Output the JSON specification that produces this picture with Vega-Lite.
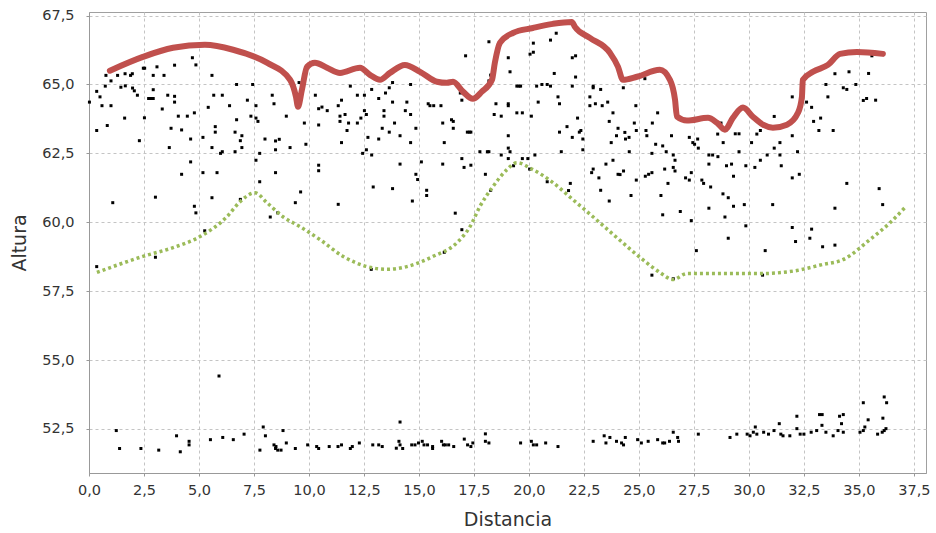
{
  "$schema": "https://vega.github.io/schema/vega-lite/v6.json",
  "width": 837,
  "height": 461,
  "autosize": {"type": "none"},
  "padding": {"left": 89, "top": 12, "right": 10, "bottom": 60},
  "background": "white",
  "config": {
    "view": {"stroke": "#a0a0a0", "strokeWidth": 1},
    "font": "DejaVu Sans",
    "axis": {
      "labelFont": "DejaVu Sans",
      "labelFontSize": 14.5,
      "labelColor": "#333333",
      "titleFont": "DejaVu Sans",
      "titleFontSize": 19,
      "titleFontWeight": "normal",
      "titleColor": "#333333",
      "domainColor": "#999999",
      "tickColor": "#999999",
      "tickSize": 3,
      "gridColor": "#c4c4c4",
      "gridDash": [3, 3],
      "gridWidth": 1
    }
  },
  "datasets": {
    "puntos": [
      {"distancia":0.02,"altura":64.36},{"distancia":0.35,"altura":64.75},{"distancia":0.35,"altura":63.33},{"distancia":0.5,"altura":64.55},{"distancia":0.59,"altura":64.23},{"distancia":0.74,"altura":64.94},{"distancia":0.77,"altura":65.33},{"distancia":0.83,"altura":63.51},{"distancia":1.0,"altura":65.13},{"distancia":1.0,"altura":64.23},{"distancia":1.08,"altura":60.71},{"distancia":1.3,"altura":65.33},{"distancia":1.48,"altura":65.7},{"distancia":1.45,"altura":64.9},{"distancia":1.64,"altura":65.39},{"distancia":1.62,"altura":63.78},{"distancia":1.65,"altura":64.95},{"distancia":1.89,"altura":65.33},{"distancia":1.97,"altura":65.39},{"distancia":1.98,"altura":64.87},{"distancia":2.06,"altura":64.77},{"distancia":2.2,"altura":64.61},{"distancia":2.29,"altura":62.96},{"distancia":2.47,"altura":65.59},{"distancia":2.53,"altura":65.59},{"distancia":2.52,"altura":63.79},{"distancia":2.71,"altura":64.49},{"distancia":2.8,"altura":64.49},{"distancia":2.92,"altura":64.49},{"distancia":2.92,"altura":64.81},{"distancia":2.92,"altura":65.33},{"distancia":3.02,"altura":60.91},{"distancia":3.09,"altura":65.64},{"distancia":3.02,"altura":58.73},{"distancia":3.33,"altura":64.11},{"distancia":3.41,"altura":65.33},{"distancia":3.58,"altura":64.61},{"distancia":3.65,"altura":62.71},{"distancia":3.73,"altura":63.41},{"distancia":3.89,"altura":65.7},{"distancia":3.89,"altura":64.57},{"distancia":3.89,"altura":64.36},{"distancia":4.06,"altura":63.85},{"distancia":4.21,"altura":63.35},{"distancia":4.21,"altura":61.74},{"distancia":4.47,"altura":63.85},{"distancia":4.62,"altura":63.02},{"distancia":4.62,"altura":62.19},{"distancia":4.7,"altura":65.97},{"distancia":4.79,"altura":63.97},{"distancia":4.86,"altura":65.71},{"distancia":4.79,"altura":60.58},{"distancia":4.86,"altura":60.34},{"distancia":5.18,"altura":63.08},{"distancia":5.18,"altura":61.8},{"distancia":5.26,"altura":59.69},{"distancia":5.42,"altura":64.17},{"distancia":5.59,"altura":65.33},{"distancia":5.67,"altura":64.61},{"distancia":5.59,"altura":62.71},{"distancia":5.74,"altura":63.47},{"distancia":5.74,"altura":63.27},{"distancia":5.82,"altura":61.8},{"distancia":5.59,"altura":60.89},{"distancia":5.98,"altura":62.5},{"distancia":6.06,"altura":62.56},{"distancia":6.06,"altura":64.61},{"distancia":6.39,"altura":64.23},{"distancia":6.64,"altura":63.27},{"distancia":6.71,"altura":65.0},{"distancia":6.71,"altura":63.72},{"distancia":6.64,"altura":62.56},{"distancia":6.88,"altura":62.96},{"distancia":6.95,"altura":63.14},{"distancia":6.95,"altura":62.71},{"distancia":6.88,"altura":60.83},{"distancia":7.2,"altura":64.43},{"distancia":7.36,"altura":63.85},{"distancia":7.44,"altura":65.0},{"distancia":7.59,"altura":64.23},{"distancia":7.59,"altura":63.78},{"distancia":7.68,"altura":63.66},{"distancia":7.59,"altura":62.25},{"distancia":7.76,"altura":62.5},{"distancia":7.76,"altura":61.47},{"distancia":8.0,"altura":63.02},{"distancia":8.24,"altura":60.19},{"distancia":8.33,"altura":64.61},{"distancia":8.41,"altura":64.3},{"distancia":8.48,"altura":62.95},{"distancia":8.65,"altura":63.01},{"distancia":8.48,"altura":62.63},{"distancia":8.48,"altura":61.8},{"distancia":8.58,"altura":60.34},{"distancia":8.97,"altura":63.85},{"distancia":9.14,"altura":62.71},{"distancia":9.38,"altura":60.71},{"distancia":9.62,"altura":61.1},{"distancia":9.55,"altura":65.07},{"distancia":9.79,"altura":63.6},{"distancia":9.86,"altura":62.83},{"distancia":10.29,"altura":64.61},{"distancia":10.44,"altura":64.12},{"distancia":10.44,"altura":63.53},{"distancia":10.44,"altura":61.87},{"distancia":10.44,"altura":62.07},
      {"distancia":10.59,"altura":64.18},{"distancia":10.83,"altura":64.05},{"distancia":11.33,"altura":64.23},{"distancia":11.48,"altura":64.43},{"distancia":11.41,"altura":63.85},{"distancia":11.41,"altura":63.66},{"distancia":11.64,"altura":63.91},{"distancia":11.8,"altura":63.6},{"distancia":11.73,"altura":63.33},{"distancia":11.48,"altura":62.89},{"distancia":11.33,"altura":60.65},{"distancia":11.88,"altura":64.94},{"distancia":12.2,"altura":64.61},{"distancia":12.2,"altura":63.6},{"distancia":12.36,"altura":63.78},{"distancia":12.52,"altura":64.61},{"distancia":12.52,"altura":64.05},{"distancia":12.61,"altura":63.91},{"distancia":12.44,"altura":62.5},{"distancia":12.61,"altura":62.63},{"distancia":12.85,"altura":62.44},{"distancia":12.92,"altura":61.28},{"distancia":12.68,"altura":63.08},{"distancia":12.85,"altura":64.82},{"distancia":13.17,"altura":64.49},{"distancia":13.17,"altura":63.02},{"distancia":13.33,"altura":63.41},{"distancia":13.41,"altura":64.05},{"distancia":13.41,"altura":63.85},{"distancia":13.48,"altura":64.69},{"distancia":13.65,"altura":64.88},{"distancia":13.8,"altura":65.07},{"distancia":13.65,"altura":63.27},{"distancia":13.8,"altura":64.36},{"distancia":13.89,"altura":63.6},{"distancia":14.14,"altura":63.14},{"distancia":14.14,"altura":62.11},{"distancia":13.8,"altura":61.22},{"distancia":14.38,"altura":64.05},{"distancia":14.45,"altura":64.36},{"distancia":14.62,"altura":63.91},{"distancia":14.62,"altura":65.0},{"distancia":14.86,"altura":63.41},{"distancia":14.62,"altura":62.89},{"distancia":14.7,"altura":60.77},{"distancia":14.86,"altura":61.74},{"distancia":14.94,"altura":61.55},{"distancia":15.11,"altura":62.19},{"distancia":15.35,"altura":61.16},{"distancia":15.35,"altura":60.97},{"distancia":15.42,"altura":64.3},{"distancia":15.5,"altura":64.23},{"distancia":15.67,"altura":64.23},{"distancia":16.0,"altura":64.23},{"distancia":16.08,"altura":63.6},{"distancia":16.15,"altura":62.89},{"distancia":16.08,"altura":62.11},{"distancia":16.48,"altura":63.72},{"distancia":16.56,"altura":63.66},{"distancia":16.56,"altura":63.41},{"distancia":16.65,"altura":60.33},{"distancia":16.95,"altura":59.73},{"distancia":16.15,"altura":58.91},{"distancia":16.88,"altura":64.69},{"distancia":16.95,"altura":64.43},{"distancia":17.12,"altura":66.04},{"distancia":17.2,"altura":63.27},{"distancia":17.29,"altura":63.27},{"distancia":17.36,"altura":63.27},{"distancia":16.95,"altura":62.31},{"distancia":17.05,"altura":61.99},{"distancia":17.36,"altura":62.07},{"distancia":17.77,"altura":62.56},{"distancia":18.11,"altura":62.56},{"distancia":18.18,"altura":62.56},{"distancia":18.02,"altura":61.74},{"distancia":18.26,"altura":61.16},{"distancia":18.18,"altura":66.55},{"distancia":18.18,"altura":65.13},{"distancia":18.26,"altura":65.34},{"distancia":18.5,"altura":64.3},{"distancia":18.42,"altura":63.91},{"distancia":18.74,"altura":63.85},{"distancia":18.74,"altura":62.44},{"distancia":19.06,"altura":65.97},{"distancia":19.06,"altura":64.3},{"distancia":19.06,"altura":64.23},{"distancia":19.06,"altura":63.14},{"distancia":19.06,"altura":62.69},{"distancia":19.14,"altura":65.46},{"distancia":19.14,"altura":62.56},{"distancia":19.06,"altura":62.31},{"distancia":19.45,"altura":64.94},{"distancia":19.55,"altura":64.94},{"distancia":19.62,"altura":64.94},{"distancia":19.45,"altura":63.97},{"distancia":19.7,"altura":63.97},{"distancia":19.3,"altura":62.05},{"distancia":19.7,"altura":62.31},{"distancia":19.95,"altura":62.31},{"distancia":20.03,"altura":61.93},{"distancia":20.05,"altura":66.1},{"distancia":20.2,"altura":66.17},{"distancia":20.2,"altura":66.5},{"distancia":20.35,"altura":64.94},{"distancia":20.42,"altura":64.36},{"distancia":20.11,"altura":63.85},{"distancia":20.27,"altura":62.44},{"distancia":20.59,"altura":65.0},{"distancia":20.83,"altura":65.0},{"distancia":20.98,"altura":66.61},{"distancia":21.24,"altura":66.86},{"distancia":21.15,"altura":65.4},{"distancia":20.98,"altura":64.94},{"distancia":21.32,"altura":64.55},{"distancia":21.39,"altura":64.3},{"distancia":21.39,"altura":63.27},{"distancia":21.47,"altura":62.56},{"distancia":21.73,"altura":63.47},{"distancia":21.97,"altura":64.94},{"distancia":21.97,"altura":63.08},{"distancia":21.97,"altura":65.97},{"distancia":22.12,"altura":66.04},{"distancia":22.12,"altura":65.27},{"distancia":22.21,"altura":63.78},{"distancia":22.29,"altura":63.27},{"distancia":22.36,"altura":63.33},{"distancia":22.45,"altura":63.02},{"distancia":22.45,"altura":62.63},{"distancia":21.8,"altura":61.15},{"distancia":21.88,"altura":61.41},{"distancia":20.83,"altura":61.47},{"distancia":22.77,"altura":64.55},{"distancia":22.92,"altura":64.94},{"distancia":22.92,"altura":64.88},{"distancia":22.77,"altura":64.23},{"distancia":23.02,"altura":64.3},{"distancia":23.26,"altura":64.82},{"distancia":23.33,"altura":64.23},{"distancia":23.58,"altura":64.36},{"distancia":23.82,"altura":63.97},{"distancia":23.65,"altura":63.66},{"distancia":24.05,"altura":63.41},{"distancia":23.98,"altura":63.14},{"distancia":23.74,"altura":62.89},{"distancia":23.5,"altura":62.11},{"distancia":23.82,"altura":62.25},{"distancia":22.92,"altura":61.93},{"distancia":22.85,"altura":61.8},{"distancia":23.18,"altura":61.61},{"distancia":23.26,"altura":61.16},{"distancia":23.65,"altura":60.77},{"distancia":24.05,"altura":61.74},
      {"distancia":24.29,"altura":64.88},{"distancia":25.27,"altura":65.21},{"distancia":24.86,"altura":64.23},{"distancia":24.79,"altura":63.6},{"distancia":24.88,"altura":63.33},{"distancia":24.36,"altura":63.26},{"distancia":24.39,"altura":63.02},{"distancia":24.55,"altura":63.08},{"distancia":24.56,"altura":62.56},{"distancia":24.14,"altura":61.73},{"distancia":24.3,"altura":61.86},{"distancia":24.88,"altura":61.53},{"distancia":24.64,"altura":60.97},{"distancia":25.32,"altura":63.33},{"distancia":25.36,"altura":63.14},{"distancia":25.61,"altura":63.6},{"distancia":25.85,"altura":63.97},{"distancia":26.48,"altura":63.14},{"distancia":25.76,"altura":62.83},{"distancia":25.59,"altura":62.5},{"distancia":26.08,"altura":62.77},{"distancia":26.24,"altura":62.56},{"distancia":26.56,"altura":62.44},{"distancia":26.64,"altura":62.25},{"distancia":26.17,"altura":61.93},{"distancia":26.56,"altura":61.99},{"distancia":26.64,"altura":61.86},{"distancia":25.29,"altura":61.67},{"distancia":25.44,"altura":61.74},{"distancia":25.59,"altura":61.8},{"distancia":26.32,"altura":61.41},{"distancia":26.0,"altura":60.97},{"distancia":26.08,"altura":60.27},{"distancia":26.88,"altura":60.39},{"distancia":27.38,"altura":60.06},{"distancia":27.61,"altura":58.97},{"distancia":27.12,"altura":61.61},{"distancia":27.29,"altura":61.53},{"distancia":27.38,"altura":61.8},{"distancia":27.29,"altura":63.08},{"distancia":27.45,"altura":62.89},{"distancia":27.53,"altura":62.83},{"distancia":27.67,"altura":63.02},{"distancia":27.7,"altura":62.69},{"distancia":27.86,"altura":61.53},{"distancia":27.94,"altura":61.41},{"distancia":28.26,"altura":61.28},{"distancia":28.18,"altura":62.44},{"distancia":28.35,"altura":62.44},{"distancia":28.59,"altura":62.38},{"distancia":28.18,"altura":62.11},{"distancia":28.18,"altura":60.51},{"distancia":28.82,"altura":61.03},{"distancia":29.06,"altura":60.89},{"distancia":28.91,"altura":60.19},{"distancia":29.3,"altura":60.58},{"distancia":29.06,"altura":59.42},{"distancia":29.79,"altura":60.64},{"distancia":29.86,"altura":59.87},{"distancia":28.58,"altura":63.2},{"distancia":28.83,"altura":62.89},{"distancia":28.98,"altura":62.05},{"distancia":29.21,"altura":62.11},{"distancia":29.3,"altura":61.67},{"distancia":29.38,"altura":63.21},{"distancia":29.55,"altura":63.21},{"distancia":29.55,"altura":62.56},{"distancia":29.86,"altura":62.05},{"distancia":30.12,"altura":62.89},{"distancia":30.27,"altura":61.99},{"distancia":30.36,"altura":63.2},{"distancia":30.52,"altura":63.33},{"distancia":30.52,"altura":62.25},{"distancia":30.83,"altura":62.44},{"distancia":31.08,"altura":60.64},{"distancia":30.74,"altura":58.97},{"distancia":31.15,"altura":63.84},{"distancia":31.15,"altura":62.69},{"distancia":31.41,"altura":62.89},{"distancia":31.41,"altura":62.44},{"distancia":31.47,"altura":62.05},{"distancia":31.97,"altura":64.55},{"distancia":31.97,"altura":63.14},{"distancia":31.97,"altura":61.61},{"distancia":32.21,"altura":62.56},{"distancia":32.29,"altura":61.74},{"distancia":31.97,"altura":59.81},{"distancia":32.12,"altura":59.3},{"distancia":32.62,"altura":64.36},{"distancia":32.85,"altura":64.17},{"distancia":32.94,"altura":63.66},{"distancia":33.26,"altura":63.78},{"distancia":33.18,"altura":63.33},{"distancia":33.35,"altura":59.11},{"distancia":32.77,"altura":59.42},{"distancia":32.85,"altura":59.75},{"distancia":33.5,"altura":65.0},{"distancia":33.59,"altura":64.55},{"distancia":33.83,"altura":63.33},{"distancia":33.91,"altura":65.39},{"distancia":33.91,"altura":60.51},{"distancia":33.91,"altura":59.17},{"distancia":34.29,"altura":64.88},{"distancia":34.45,"altura":64.82},{"distancia":34.55,"altura":65.46},{"distancia":34.86,"altura":65.0},{"distancia":34.45,"altura":61.41},{"distancia":35.2,"altura":64.42},{"distancia":35.35,"altura":64.49},{"distancia":35.44,"altura":65.4},{"distancia":35.59,"altura":66.04},{"distancia":35.76,"altura":64.43},{"distancia":35.92,"altura":61.22},{"distancia":36.08,"altura":60.64},{"distancia":28.73,"altura":63.6},
      {"distancia":0.35,"altura":58.39},{"distancia":1.24,"altura":52.44},{"distancia":1.39,"altura":51.79},{"distancia":2.36,"altura":51.79},{"distancia":3.17,"altura":51.73},{"distancia":3.98,"altura":52.25},{"distancia":4.15,"altura":51.67},{"distancia":4.55,"altura":52.05},{"distancia":4.55,"altura":51.92},{"distancia":5.52,"altura":52.11},{"distancia":5.91,"altura":54.42},{"distancia":6.08,"altura":52.19},{"distancia":6.56,"altura":52.11},{"distancia":7.05,"altura":52.31},{"distancia":7.77,"altura":51.73},{"distancia":7.92,"altura":52.57},{"distancia":8.02,"altura":52.25},{"distancia":8.41,"altura":51.92},{"distancia":8.48,"altura":51.79},{"distancia":8.58,"altura":51.73},{"distancia":8.73,"altura":51.73},{"distancia":8.5,"altura":51.86},{"distancia":8.82,"altura":52.44},{"distancia":8.97,"altura":51.99},{"distancia":9.38,"altura":51.79},{"distancia":9.94,"altura":51.92},{"distancia":10.35,"altura":51.86},
      {"distancia":10.44,"altura":51.79},{"distancia":10.92,"altura":51.86},{"distancia":11.32,"altura":51.86},{"distancia":11.48,"altura":51.92},{"distancia":11.88,"altura":51.79},{"distancia":11.97,"altura":51.86},{"distancia":12.29,"altura":51.99},{"distancia":12.9,"altura":51.92},{"distancia":13.17,"altura":51.92},{"distancia":13.33,"altura":51.86},{"distancia":13.97,"altura":51.8},{"distancia":14.09,"altura":52.05},{"distancia":14.14,"altura":51.92},{"distancia":14.26,"altura":51.79},{"distancia":14.14,"altura":52.75},{"distancia":14.67,"altura":51.92},{"distancia":14.82,"altura":51.92},{"distancia":14.98,"altura":51.99},{"distancia":15.15,"altura":52.05},{"distancia":15.23,"altura":51.92},{"distancia":15.39,"altura":51.92},{"distancia":15.62,"altura":51.86},{"distancia":15.62,"altura":51.79},{"distancia":16.03,"altura":52.05},{"distancia":16.11,"altura":51.92},{"distancia":16.2,"altura":51.92},{"distancia":16.35,"altura":51.92},{"distancia":16.58,"altura":51.86},{"distancia":17.06,"altura":52.13},{"distancia":17.21,"altura":51.92},{"distancia":17.36,"altura":51.86},{"distancia":17.45,"altura":51.99},{"distancia":18.02,"altura":52.32},{"distancia":18.02,"altura":52.05},{"distancia":18.18,"altura":51.99},{"distancia":19.62,"altura":51.99},{"distancia":20.11,"altura":52.05},{"distancia":20.2,"altura":51.92},{"distancia":20.35,"altura":51.92},{"distancia":20.76,"altura":51.99},{"distancia":21.32,"altura":51.86},{"distancia":22.92,"altura":52.05},{"distancia":23.42,"altura":52.25},{"distancia":23.5,"altura":51.99},{"distancia":23.68,"altura":52.19},{"distancia":23.98,"altura":52.05},{"distancia":12.83,"altura":58.29},
      {"distancia":24.21,"altura":51.99},{"distancia":24.3,"altura":51.92},{"distancia":24.38,"altura":52.19},{"distancia":24.94,"altura":52.11},{"distancia":25.11,"altura":51.99},{"distancia":25.42,"altura":52.05},{"distancia":25.85,"altura":52.11},{"distancia":26.08,"altura":51.99},{"distancia":26.17,"altura":51.99},{"distancia":26.39,"altura":52.05},{"distancia":26.56,"altura":52.38},{"distancia":26.8,"altura":52.05},{"distancia":26.76,"altura":52.19},{"distancia":27.7,"altura":52.31},{"distancia":29.14,"altura":52.19},{"distancia":29.45,"altura":52.31},{"distancia":29.92,"altura":52.31},{"distancia":30.05,"altura":52.25},{"distancia":30.2,"altura":52.38},{"distancia":30.29,"altura":52.57},{"distancia":30.36,"altura":52.31},{"distancia":30.67,"altura":52.38},{"distancia":30.89,"altura":52.31},{"distancia":31.14,"altura":52.44},{"distancia":31.38,"altura":52.69},{"distancia":31.45,"altura":52.31},{"distancia":31.55,"altura":52.25},{"distancia":31.86,"altura":52.25},{"distancia":32.18,"altura":52.96},{"distancia":32.18,"altura":52.51},{"distancia":32.33,"altura":52.31},{"distancia":32.5,"altura":52.31},{"distancia":32.83,"altura":52.38},{"distancia":33.08,"altura":52.44},{"distancia":33.21,"altura":53.02},{"distancia":33.33,"altura":53.02},{"distancia":33.32,"altura":52.63},{"distancia":33.5,"altura":52.38},{"distancia":33.83,"altura":52.25},{"distancia":34.05,"altura":52.44},{"distancia":34.12,"altura":52.96},{"distancia":34.29,"altura":53.02},{"distancia":34.21,"altura":52.69},{"distancia":34.29,"altura":52.38},{"distancia":35.05,"altura":52.38},{"distancia":35.2,"altura":53.45},{"distancia":35.27,"altura":52.57},{"distancia":35.2,"altura":52.44},{"distancia":35.42,"altura":52.83},{"distancia":35.85,"altura":52.31},{"distancia":36.06,"altura":52.38},{"distancia":36.15,"altura":53.66},{"distancia":36.26,"altura":53.45},{"distancia":36.09,"altura":52.89},{"distancia":36.23,"altura":52.51},{"distancia":36.15,"altura":52.44},{"distancia":25.59,"altura":58.08},{"distancia":26.56,"altura":57.95},{"distancia":30.62,"altura":58.08}
    ],
    "maxima": [
      {"distancia":0.95,"altura":65.5},{"distancia":2.45,"altura":66.0},{"distancia":3.82,"altura":66.33},{"distancia":5.27,"altura":66.44},{"distancia":6.55,"altura":66.26},{"distancia":8.09,"altura":65.79},{"distancia":9.14,"altura":65.17},{"distancia":9.41,"altura":64.55},{"distancia":9.5,"altura":64.19},{"distancia":9.68,"altura":64.81},{"distancia":9.91,"altura":65.64},{"distancia":10.27,"altura":65.79},{"distancia":10.82,"altura":65.61},{"distancia":11.41,"altura":65.42},{"distancia":12.32,"altura":65.61},{"distancia":12.77,"altura":65.35},{"distancia":13.23,"altura":65.17},{"distancia":13.68,"altura":65.42},{"distancia":14.36,"altura":65.71},{"distancia":15.05,"altura":65.46},{"distancia":15.82,"altura":65.1},{"distancia":16.27,"altura":65.06},{"distancia":16.55,"altura":65.1},{"distancia":17.0,"altura":64.74},{"distancia":17.45,"altura":64.48},{"distancia":17.86,"altura":64.74},{"distancia":18.32,"altura":65.17},{"distancia":18.45,"altura":65.79},{"distancia":18.68,"altura":66.51},{"distancia":19.27,"altura":66.87},{"distancia":20.18,"altura":67.05},{"distancia":21.09,"altura":67.2},{"distancia":21.95,"altura":67.27},{"distancia":22.09,"altura":67.09},{"distancia":22.77,"altura":66.69},{"distancia":23.68,"altura":66.15},{"distancia":24.05,"altura":65.64},{"distancia":24.27,"altura":65.17},{"distancia":24.91,"altura":65.28},{"distancia":25.95,"altura":65.53},{"distancia":26.41,"altura":65.17},{"distancia":26.64,"altura":64.45},{"distancia":26.73,"altura":63.83},{"distancia":27.18,"altura":63.69},{"distancia":28.14,"altura":63.79},{"distancia":28.55,"altura":63.61},{"distancia":28.91,"altura":63.36},{"distancia":29.27,"altura":63.79},{"distancia":29.73,"altura":64.16},{"distancia":30.18,"altura":63.83},{"distancia":30.64,"altura":63.54},{"distancia":31.09,"altura":63.43},{"distancia":31.73,"altura":63.54},{"distancia":32.23,"altura":63.97},{"distancia":32.41,"altura":64.55},{"distancia":32.45,"altura":65.17},{"distancia":32.91,"altura":65.46},{"distancia":33.59,"altura":65.71},{"distancia":34.14,"altura":66.11},{"distancia":34.91,"altura":66.18},{"distancia":36.09,"altura":66.11}
    ],
    "minima": [
      {"distancia":0.36,"altura":58.18},{"distancia":2.45,"altura":58.76},{"distancia":3.82,"altura":59.08},{"distancia":5.05,"altura":59.48},{"distancia":6.27,"altura":60.2},{"distancia":6.86,"altura":60.74},{"distancia":7.55,"altura":61.07},{"distancia":8.09,"altura":60.71},{"distancia":8.82,"altura":60.2},{"distancia":9.59,"altura":59.84},{"distancia":10.5,"altura":59.37},{"distancia":11.55,"altura":58.76},{"distancia":12.64,"altura":58.39},{"distancia":13.55,"altura":58.29},{"distancia":14.45,"altura":58.39},{"distancia":15.64,"altura":58.76},{"distancia":16.73,"altura":59.26},{"distancia":17.32,"altura":59.84},{"distancia":17.77,"altura":60.57},{"distancia":18.36,"altura":61.29},{"distancia":19.0,"altura":61.91},{"distancia":19.45,"altura":62.16},{"distancia":20.18,"altura":61.91},{"distancia":21.09,"altura":61.44},{"distancia":22.0,"altura":60.82},{"distancia":22.91,"altura":60.2},{"distancia":24.0,"altura":59.44},{"distancia":25.18,"altura":58.64},{"distancia":25.95,"altura":58.18},{"distancia":26.55,"altura":57.92},{"distancia":27.18,"altura":58.14},{"distancia":28.23,"altura":58.14},{"distancia":30.64,"altura":58.14},{"distancia":32.18,"altura":58.25},{"distancia":33.36,"altura":58.47},{"distancia":34.27,"altura":58.64},{"distancia":35.5,"altura":59.37},{"distancia":36.41,"altura":59.98},{"distancia":37.09,"altura":60.53}
    ]
  },
  "layer": [
    {
      "data": {"name": "puntos"},
      "mark": {"type": "square", "size": 9, "color": "#000000", "opacity": 1},
      "encoding": {
        "x": {
          "field": "distancia", "type": "quantitative", "title": "Distancia",
          "scale": {"domain": [0, 38.05], "nice": false, "zero": false},
          "axis": {
            "values": [0, 2.5, 5, 7.5, 10, 12.5, 15, 17.5, 20, 22.5, 25, 27.5, 30, 32.5, 35, 37.5],
            "labelExpr": "replace(format(datum.value, '.1f'), '.', ',')",
            "labelPadding": 7,
            "titlePadding": 14,
            "labelFlush": false
          }
        },
        "y": {
          "field": "altura", "type": "quantitative", "title": "Altura",
          "scale": {"domain": [50.9, 67.63], "nice": false, "zero": false},
          "axis": {
            "values": [52.5, 55, 57.5, 60, 62.5, 65, 67.5],
            "labelExpr": "replace(format(datum.value, '.1f'), '.', ',')",
            "labelPadding": 12,
            "titlePadding": 12,
            "labelFlush": false
          }
        }
      }
    },
    {
      "data": {"name": "minima"},
      "mark": {"type": "line", "color": "#9bbb59", "strokeWidth": 3.5, "strokeDash": [3, 3], "interpolate": "monotone"},
      "encoding": {
        "x": {"field": "distancia", "type": "quantitative"},
        "y": {"field": "altura", "type": "quantitative"}
      }
    },
    {
      "data": {"name": "maxima"},
      "mark": {"type": "line", "color": "#c0504d", "strokeWidth": 6, "strokeCap": "round", "strokeJoin": "round", "interpolate": "monotone"},
      "encoding": {
        "x": {"field": "distancia", "type": "quantitative"},
        "y": {"field": "altura", "type": "quantitative"}
      }
    }
  ]
}
